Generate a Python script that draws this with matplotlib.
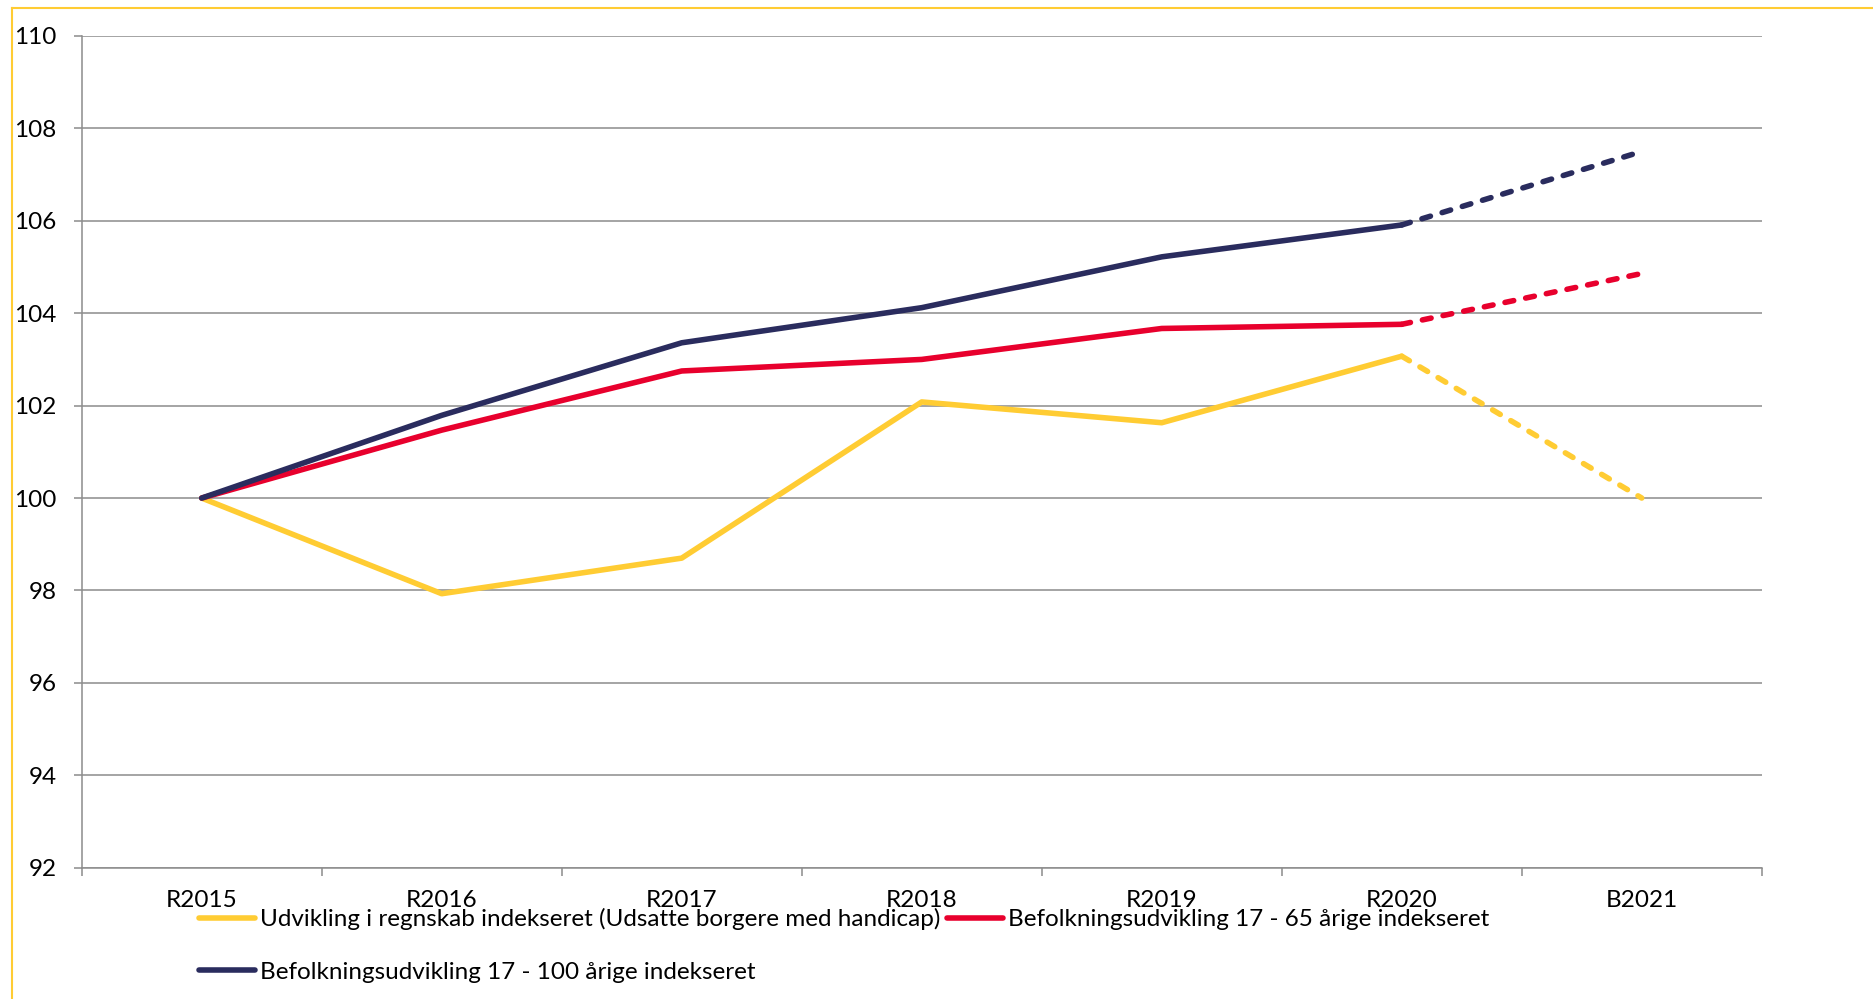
import matplotlib.pyplot as plt
from matplotlib.lines import Line2D

# categories and index values
years = ["R2015", "R2016", "R2017", "R2018", "R2019", "R2020", "B2021"]
regnskab = [100.0, 97.93, 98.70, 102.08, 101.63, 103.07, 100.0]
bef_17_65 = [100.0, 101.47, 102.75, 103.0, 103.67, 103.76, 104.86]
bef_17_100 = [100.0, 101.79, 103.36, 104.12, 105.22, 105.91, 107.50]

labels = ["Udvikling i regnskab indekseret (Udsatte borgere med handicap)",
          "Befolkningsudvikling 17 - 65 årige indekseret",
          "Befolkningsudvikling 17 - 100 årige indekseret"]

YELLOW = "#FFCC33"
RED = "#E8002D"
NAVY = "#2A2C5E"
GRID = "#8C8C8C"

plt.rcParams["font.family"] = ["Lato", "DejaVu Sans"]
plt.rcParams["font.size"] = 17.5

def main():
    fig = plt.figure(figsize=(18.74, 9.99), dpi=100)
    ax = fig.add_axes([0.0436, 0.1314, 0.8965, 0.8326])

    x = list(range(len(years)))
    lw = 4.0
    handles = []
    for vals, col, lab in zip([regnskab, bef_17_65, bef_17_100],
                              [YELLOW, RED, NAVY], labels):
        ax.plot(x[:6], vals[:6], color=col, lw=lw, solid_capstyle="round",
                solid_joinstyle="round", zorder=3)
        ax.plot(x[5:], vals[5:], color=col, lw=lw, dashes=(1.6, 2.2),
                dash_capstyle="round", zorder=3)
        handles.append(Line2D([], [], color=col, lw=lw, solid_capstyle="round"))

    ax.set_xlim(-0.5, 6.5)
    ax.set_ylim(92, 110)
    ax.set_yticks(range(92, 111, 2))
    ax.set_xticks(x)
    ax.set_xticklabels(years)
    ax.set_xticks([i - 0.5 for i in range(8)], minor=True)
    ax.tick_params(axis="x", which="major", length=0, pad=16)
    ax.tick_params(axis="x", which="minor", length=6, width=1.1, color=GRID)
    ax.tick_params(axis="y", length=6, width=1.1, color=GRID, pad=12)
    ax.grid(axis="y", color=GRID, lw=1.1)
    ax.set_axisbelow(True)
    for s in ["top", "right"]:
        ax.spines[s].set_visible(False)
    for s in ["left", "bottom"]:
        ax.spines[s].set_color(GRID)
        ax.spines[s].set_linewidth(1.1)

    # order so ncol=2 puts navy under yellow and red beside yellow
    leg = fig.legend([handles[0], handles[2], handles[1]],
                     [labels[0], labels[2], labels[1]],
                     ncol=2, frameon=False, loc="upper left",
                     bbox_to_anchor=(199 / 1874, 1 - 908 / 999),
                     borderpad=0, borderaxespad=0, handlelength=2.3,
                     handletextpad=0.2, columnspacing=0.3, labelspacing=1.3,
                     fontsize=17.5)

    # yellow frame around the chart
    fig.add_artist(Line2D([12 / 1874, 1], [1 - 8 / 999, 1 - 8 / 999],
                          transform=fig.transFigure, color=YELLOW, lw=1.5))
    fig.add_artist(Line2D([12 / 1874, 12 / 1874], [0, 1 - 8 / 999],
                          transform=fig.transFigure, color=YELLOW, lw=1.5))

    fig.savefig("out.png", dpi=100)

if __name__ == "__main__":
    main()
